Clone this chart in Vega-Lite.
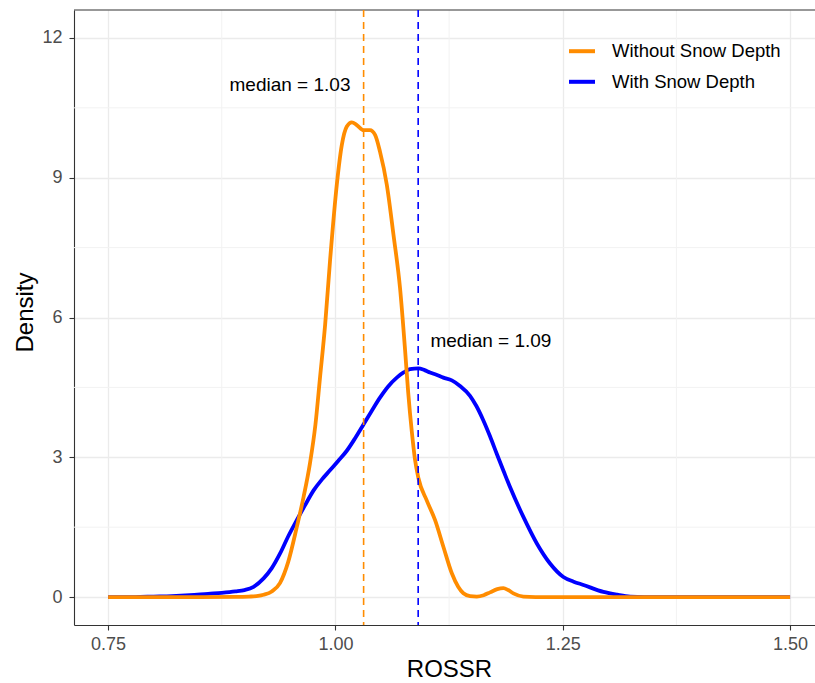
{
  "$schema": "https://vega.github.io/schema/vega-lite/v6.json",
  "width": 741,
  "height": 615,
  "autosize": {"type": "none"},
  "padding": {"left": 74, "top": 10, "right": 0, "bottom": 58},
  "background": "white",
  "config": {"view": {"stroke": null}, "font": "Liberation Sans"},
  "datasets": {
    "curves": [
      {"series": "With Snow Depth", "ROSSR": 0.75, "density": 0},
      {"series": "With Snow Depth", "ROSSR": 0.78, "density": 0.0},
      {"series": "With Snow Depth", "ROSSR": 0.80, "density": 0.01},
      {"series": "With Snow Depth", "ROSSR": 0.82, "density": 0.02},
      {"series": "With Snow Depth", "ROSSR": 0.84, "density": 0.04},
      {"series": "With Snow Depth", "ROSSR": 0.86, "density": 0.07},
      {"series": "With Snow Depth", "ROSSR": 0.875, "density": 0.09},
      {"series": "With Snow Depth", "ROSSR": 0.89, "density": 0.12},
      {"series": "With Snow Depth", "ROSSR": 0.90, "density": 0.15},
      {"series": "With Snow Depth", "ROSSR": 0.91, "density": 0.22},
      {"series": "With Snow Depth", "ROSSR": 0.921, "density": 0.40},
      {"series": "With Snow Depth", "ROSSR": 0.93, "density": 0.62},
      {"series": "With Snow Depth", "ROSSR": 0.939, "density": 0.93},
      {"series": "With Snow Depth", "ROSSR": 0.948, "density": 1.3},
      {"series": "With Snow Depth", "ROSSR": 0.9575, "density": 1.65},
      {"series": "With Snow Depth", "ROSSR": 0.966, "density": 1.95},
      {"series": "With Snow Depth", "ROSSR": 0.976, "density": 2.29},
      {"series": "With Snow Depth", "ROSSR": 0.985, "density": 2.52},
      {"series": "With Snow Depth", "ROSSR": 0.994, "density": 2.72},
      {"series": "With Snow Depth", "ROSSR": 1.003, "density": 2.92},
      {"series": "With Snow Depth", "ROSSR": 1.0125, "density": 3.14},
      {"series": "With Snow Depth", "ROSSR": 1.022, "density": 3.42},
      {"series": "With Snow Depth", "ROSSR": 1.031, "density": 3.71},
      {"series": "With Snow Depth", "ROSSR": 1.04, "density": 4.0},
      {"series": "With Snow Depth", "ROSSR": 1.049, "density": 4.28},
      {"series": "With Snow Depth", "ROSSR": 1.058, "density": 4.52},
      {"series": "With Snow Depth", "ROSSR": 1.0675, "density": 4.71},
      {"series": "With Snow Depth", "ROSSR": 1.075, "density": 4.82},
      {"series": "With Snow Depth", "ROSSR": 1.082, "density": 4.89},
      {"series": "With Snow Depth", "ROSSR": 1.0913, "density": 4.91},
      {"series": "With Snow Depth", "ROSSR": 1.098, "density": 4.87},
      {"series": "With Snow Depth", "ROSSR": 1.104, "density": 4.82},
      {"series": "With Snow Depth", "ROSSR": 1.111, "density": 4.77},
      {"series": "With Snow Depth", "ROSSR": 1.1187, "density": 4.71},
      {"series": "With Snow Depth", "ROSSR": 1.128, "density": 4.65},
      {"series": "With Snow Depth", "ROSSR": 1.137, "density": 4.53},
      {"series": "With Snow Depth", "ROSSR": 1.148, "density": 4.32},
      {"series": "With Snow Depth", "ROSSR": 1.155, "density": 4.1},
      {"series": "With Snow Depth", "ROSSR": 1.1627, "density": 3.79},
      {"series": "With Snow Depth", "ROSSR": 1.170, "density": 3.45},
      {"series": "With Snow Depth", "ROSSR": 1.1775, "density": 3.07},
      {"series": "With Snow Depth", "ROSSR": 1.185, "density": 2.7},
      {"series": "With Snow Depth", "ROSSR": 1.192, "density": 2.36},
      {"series": "With Snow Depth", "ROSSR": 1.2067, "density": 1.72},
      {"series": "With Snow Depth", "ROSSR": 1.2215, "density": 1.15},
      {"series": "With Snow Depth", "ROSSR": 1.236, "density": 0.72},
      {"series": "With Snow Depth", "ROSSR": 1.2507, "density": 0.43},
      {"series": "With Snow Depth", "ROSSR": 1.262, "density": 0.33},
      {"series": "With Snow Depth", "ROSSR": 1.2727, "density": 0.26},
      {"series": "With Snow Depth", "ROSSR": 1.2947, "density": 0.11},
      {"series": "With Snow Depth", "ROSSR": 1.31, "density": 0.05},
      {"series": "With Snow Depth", "ROSSR": 1.324, "density": 0.01},
      {"series": "With Snow Depth", "ROSSR": 1.34, "density": 0},
      {"series": "With Snow Depth", "ROSSR": 1.5, "density": 0},
      {"series": "Without Snow Depth", "ROSSR": 0.75, "density": 0},
      {"series": "Without Snow Depth", "ROSSR": 0.85, "density": 0},
      {"series": "Without Snow Depth", "ROSSR": 0.89, "density": 0.002},
      {"series": "Without Snow Depth", "ROSSR": 0.905, "density": 0.01},
      {"series": "Without Snow Depth", "ROSSR": 0.915, "density": 0.025},
      {"series": "Without Snow Depth", "ROSSR": 0.921, "density": 0.05},
      {"series": "Without Snow Depth", "ROSSR": 0.93, "density": 0.12},
      {"series": "Without Snow Depth", "ROSSR": 0.939, "density": 0.3},
      {"series": "Without Snow Depth", "ROSSR": 0.948, "density": 0.75},
      {"series": "Without Snow Depth", "ROSSR": 0.9575, "density": 1.5},
      {"series": "Without Snow Depth", "ROSSR": 0.965, "density": 2.15},
      {"series": "Without Snow Depth", "ROSSR": 0.972, "density": 2.87},
      {"series": "Without Snow Depth", "ROSSR": 0.978, "density": 3.7},
      {"series": "Without Snow Depth", "ROSSR": 0.983, "density": 4.7},
      {"series": "Without Snow Depth", "ROSSR": 0.9887, "density": 5.85},
      {"series": "Without Snow Depth", "ROSSR": 0.994, "density": 7.2},
      {"series": "Without Snow Depth", "ROSSR": 1.0015, "density": 8.85},
      {"series": "Without Snow Depth", "ROSSR": 1.007, "density": 9.7},
      {"series": "Without Snow Depth", "ROSSR": 1.0125, "density": 10.1},
      {"series": "Without Snow Depth", "ROSSR": 1.018, "density": 10.19},
      {"series": "Without Snow Depth", "ROSSR": 1.0235, "density": 10.13},
      {"series": "Without Snow Depth", "ROSSR": 1.031, "density": 10.02},
      {"series": "Without Snow Depth", "ROSSR": 1.038, "density": 10.02},
      {"series": "Without Snow Depth", "ROSSR": 1.0436, "density": 9.92},
      {"series": "Without Snow Depth", "ROSSR": 1.049, "density": 9.56},
      {"series": "Without Snow Depth", "ROSSR": 1.0565, "density": 8.85},
      {"series": "Without Snow Depth", "ROSSR": 1.0638, "density": 7.78},
      {"series": "Without Snow Depth", "ROSSR": 1.071, "density": 6.64},
      {"series": "Without Snow Depth", "ROSSR": 1.0766, "density": 5.3},
      {"series": "Without Snow Depth", "ROSSR": 1.080, "density": 4.4},
      {"series": "Without Snow Depth", "ROSSR": 1.084, "density": 3.55},
      {"series": "Without Snow Depth", "ROSSR": 1.0875, "density": 2.95},
      {"series": "Without Snow Depth", "ROSSR": 1.0913, "density": 2.55},
      {"series": "Without Snow Depth", "ROSSR": 1.1005, "density": 2.07},
      {"series": "Without Snow Depth", "ROSSR": 1.1096, "density": 1.65},
      {"series": "Without Snow Depth", "ROSSR": 1.1187, "density": 1.08},
      {"series": "Without Snow Depth", "ROSSR": 1.128, "density": 0.51},
      {"series": "Without Snow Depth", "ROSSR": 1.135, "density": 0.22},
      {"series": "Without Snow Depth", "ROSSR": 1.1407, "density": 0.08},
      {"series": "Without Snow Depth", "ROSSR": 1.148, "density": 0.02},
      {"series": "Without Snow Depth", "ROSSR": 1.1555, "density": 0.01},
      {"series": "Without Snow Depth", "ROSSR": 1.163, "density": 0.04},
      {"series": "Without Snow Depth", "ROSSR": 1.170, "density": 0.1},
      {"series": "Without Snow Depth", "ROSSR": 1.178, "density": 0.17},
      {"series": "Without Snow Depth", "ROSSR": 1.1847, "density": 0.19},
      {"series": "Without Snow Depth", "ROSSR": 1.19, "density": 0.15},
      {"series": "Without Snow Depth", "ROSSR": 1.1957, "density": 0.08},
      {"series": "Without Snow Depth", "ROSSR": 1.2067, "density": 0.01},
      {"series": "Without Snow Depth", "ROSSR": 1.22, "density": 0},
      {"series": "Without Snow Depth", "ROSSR": 1.5, "density": 0}
    ],
    "medians": [
      {"series": "Without Snow Depth", "median": 1.031, "label": "median = 1.03", "lx": 0.95, "ly": 11},
      {"series": "With Snow Depth", "median": 1.091, "label": "median = 1.09", "lx": 1.171, "ly": 5.5}
    ],
    "minorX": [{"x": 0.875}, {"x": 1.125}, {"x": 1.375}],
    "minorY": [{"y": 1.5}, {"y": 4.5}, {"y": 7.5}, {"y": 10.5}],
    "border": [{"top": 12.6}]
  },
  "layer": [
    {
      "data": {"name": "minorX"},
      "mark": {"type": "rule", "color": "#f2f2f2", "strokeWidth": 1},
      "encoding": {
        "x": {"field": "x", "type": "quantitative", "scale": {"domain": [0.7125, 1.5274], "nice": false, "zero": false}, "axis": {"title": "ROSSR"}}
      }
    },
    {
      "data": {"name": "minorY"},
      "mark": {"type": "rule", "color": "#f2f2f2", "strokeWidth": 1},
      "encoding": {
        "y": {"field": "y", "type": "quantitative", "scale": {"domain": [-0.6, 12.6], "nice": false, "zero": false}, "axis": {"title": "Density"}}
      }
    },
    {
      "data": {"name": "border"},
      "mark": {"type": "rule", "color": "#333333", "strokeWidth": 1.1},
      "encoding": {
        "y": {"field": "top", "type": "quantitative", "scale": {"domain": [-0.6, 12.6], "nice": false, "zero": false}, "axis": {"title": "Density"}}
      }
    },
    {
      "data": {"name": "curves"},
      "mark": {"type": "line", "strokeWidth": 3.8, "interpolate": "monotone", "clip": true},
      "encoding": {
        "x": {
          "field": "ROSSR", "type": "quantitative",
          "scale": {"domain": [0.7125, 1.5274], "nice": false, "zero": false},
          "axis": {
            "values": [0.75, 1.0, 1.25, 1.5], "format": ".2f", "title": "ROSSR",
            "grid": true, "gridColor": "#ebebeb", "gridWidth": 1.3,
            "domainColor": "#333333", "domainWidth": 1.1,
            "tickColor": "#333333", "tickSize": 5, "tickWidth": 1.1,
            "labelColor": "#4d4d4d", "labelFontSize": 18, "labelBaseline": "alphabetic", "labelPadding": 19.4,
            "labelFlush": false, "labelOverlap": false,
            "titleFontSize": 24, "titleFontWeight": "normal", "titleColor": "black",
            "titleX": 375, "titleY": 51.7, "titleBaseline": "alphabetic", "titleAlign": "center"
          }
        },
        "y": {
          "field": "density", "type": "quantitative",
          "scale": {"domain": [-0.6, 12.6], "nice": false, "zero": false},
          "axis": {
            "values": [0, 3, 6, 9, 12], "title": "Density",
            "grid": true, "gridColor": "#ebebeb", "gridWidth": 1.3,
            "domainColor": "#333333", "domainWidth": 1.1,
            "tickColor": "#333333", "tickSize": 5, "tickWidth": 1.1,
            "labelColor": "#4d4d4d", "labelFontSize": 18, "labelPadding": 7, "labelOverlap": false,
            "titleFontSize": 24, "titleFontWeight": "normal", "titleColor": "black",
            "titleX": -42, "titleY": 302, "titleAngle": -90, "titleBaseline": "alphabetic", "titleAlign": "center"
          }
        },
        "color": {
          "field": "series", "type": "nominal",
          "scale": {"domain": ["Without Snow Depth", "With Snow Depth"], "range": ["#FF8C00", "#0000FF"]},
          "legend": {
            "title": null, "orient": "none", "legendX": 493, "legendY": 26.2,
            "symbolType": "stroke", "symbolSize": 676, "symbolStrokeWidth": 4,
            "labelFontSize": 18.5, "labelColor": "black", "labelOffset": 15, "labelLimit": 400,
            "rowPadding": 5.6, "padding": 0
          }
        }
      }
    },
    {
      "data": {"name": "medians"},
      "transform": [{"filter": "datum.series == 'Without Snow Depth'"}],
      "mark": {"type": "rule", "color": "#FF8C00", "strokeWidth": 1.6, "strokeDash": [7, 5]},
      "encoding": {
        "x": {"field": "median", "type": "quantitative", "scale": {"domain": [0.7125, 1.5274], "nice": false, "zero": false}, "axis": {"title": "ROSSR"}}
      }
    },
    {
      "data": {"name": "medians"},
      "transform": [{"filter": "datum.series == 'With Snow Depth'"}],
      "mark": {"type": "rule", "color": "#0000FF", "strokeWidth": 1.6, "strokeDash": [7, 5]},
      "encoding": {
        "x": {"field": "median", "type": "quantitative", "scale": {"domain": [0.7125, 1.5274], "nice": false, "zero": false}, "axis": {"title": "ROSSR"}}
      }
    },
    {
      "data": {"name": "medians"},
      "mark": {"type": "text", "fontSize": 19, "color": "black", "align": "center", "baseline": "middle"},
      "encoding": {
        "x": {"field": "lx", "type": "quantitative", "scale": {"domain": [0.7125, 1.5274], "nice": false, "zero": false}, "axis": {"title": "ROSSR"}},
        "y": {"field": "ly", "type": "quantitative", "scale": {"domain": [-0.6, 12.6], "nice": false, "zero": false}, "axis": {"title": "Density"}},
        "text": {"field": "label"}
      }
    }
  ]
}
